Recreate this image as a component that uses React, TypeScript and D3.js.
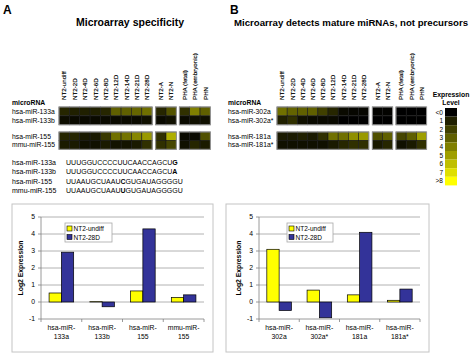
import React from "react";
import * as d3 from "d3";

// heatmap columns (same for both panels)
const columns = [
  "NT2-undiff", "NT2-2D", "NT2-4D", "NT2-6D", "NT2-8D", "NT2-12D", "NT2-14D",
  "NT2-21D", "NT2-28D", "NT2-A", "NT2-N", "PHA (fetal)", "PHA (embryonic)", "PHN",
];

// expression levels (0..8 scale)
const heatRowsA = ["hsa-miR-133a", "hsa-miR-133b", "hsa-miR-155", "mmu-miR-155"];
const heatA = [
  [1.2, 1.0, 1.0, 1.0, 1.2, 3.0, 3.0, 3.2, 3.5, 1.2, 2.6, 1.5, 4.0, 3.0],
  [0.4, 0.3, 0.3, 0.3, 0.3, 0.3, 0.3, 0.3, 0.5, 0.3, 0.5, 0.3, 0.5, 0.5],
  [1.2, 1.2, 0.8, 0.8, 1.8, 3.5, 3.6, 4.2, 4.8, 1.5, 5.5, 0.3, 0.3, 2.5],
  [0.8, 0.8, 0.5, 0.5, 0.8, 0.6, 0.6, 0.8, 1.5, 1.5, 2.2, 0.5, 1.2, 0.8],
];
const heatRowsB = ["hsa-miR-302a", "hsa-miR-302a*", "hsa-miR-181a", "hsa-miR-181a*"];
const heatB = [
  [3.5, 3.1, 3.0, 3.0, 2.0, 1.2, 0.3, 0.2, 0.2, 0.1, 0.1, 0, 0, 0],
  [1.0, 1.5, 0.5, 0.3, 0.3, 0.3, 0, 0, 0, 0, 0, 0, 0, 0],
  [0.8, 0.8, 1.0, 0.8, 1.5, 3.5, 3.5, 4.5, 4.8, 2.5, 3.0, 2.2, 3.0, 5.0],
  [0.5, 0.5, 0.5, 0.5, 0.5, 0.8, 1.2, 1.5, 1.5, 0.8, 1.2, 0.5, 0.8, 1.5],
];

const levelLabels = ["<0", "1", "2", "3", "4", "5", "6", "7", ">8"];
const levelValues = [0, 1, 2, 3, 4, 5, 6, 7, 8];

// sequences, with the index of the letter shown in bold
const seqNames = ["hsa-miR-133a", "hsa-miR-133b", "hsa-miR-155", "mmu-miR-155"];
const seqs = [
  "UUUGGUCCCCUUCAACCAGCUG",
  "UUUGGUCCCCUUCAACCAGCUA",
  "UUAAUGCUAAUCGUGAUAGGGGU",
  "UUAAUGCUAAUUGUGAUAGGGGU",
];
const seqBold = [21, 21, 11, 11];

// bar charts
const catsA = [["hsa-miR-", "133a"], ["hsa-miR-", "133b"], ["hsa-miR-", "155"], ["mmu-miR-", "155"]];
const undiffA = [0.53, 0.02, 0.65, 0.27];
const d28A = [2.93, -0.28, 4.3, 0.42];
const catsB = [["hsa-miR-", "302a"], ["hsa-miR-", "302a*"], ["hsa-miR-", "181a"], ["hsa-miR-", "181a*"]];
const undiffB = [3.1, 0.7, 0.42, 0.1];
const d28B = [-0.5, -0.93, 4.1, 0.76];
const yTicks = [-1, 0, 1, 2, 3, 4, 5];
const seriesNames = ["NT2-undiff", "NT2-28D"];

const FONT = "Liberation Sans, Arial, sans-serif";
const YELLOW = "#ffff00";
const BLUE = "#333399";

const colour = d3.scaleLinear<string>().domain([0, 8]).range(["#000000", "#ffff00"]).clamp(true);

function Heatmap({ x0, cw, gaps, rowLabels, values, labelX }: any) {
  const colX = (i: number) => x0 + i * cw + (i >= 9 ? gaps[0] : 0) + (i >= 11 ? gaps[1] : 0);
  const rowY = d3.scaleOrdinal<number, number>().domain([0, 1, 2, 3]).range([107, 116, 132, 140.5]);
  const rowH = 8.8;
  const blocks = [[0, 9], [9, 11], [11, 14]];
  return (
    <g fontFamily={FONT}>
      <text x={labelX} y={105} fontSize={6.8} fontWeight="bold">microRNA</text>
      {rowLabels.map((r: string, i: number) => (
        <text key={r} x={labelX} y={rowY(i) + 6.8} fontSize={6.8}>{r}</text>
      ))}
      {columns.map((c, i) => (
        <text key={c} transform={`translate(${colX(i) + cw / 2 + 2.3},100) rotate(-90)`} fontSize={6.2} fill="#000" stroke="#000" strokeWidth={0.15}>{c}</text>
      ))}
      {values.map((row: number[], ri: number) =>
        row.map((v, ci) => (
          <rect key={ri + "-" + ci} x={colX(ci)} y={rowY(ri)} width={cw} height={rowH}
            fill={colour(v)} stroke="#1a1a1a" strokeWidth={0.6} />
        ))
      )}
      {[0, 2].map((r) =>
        blocks.map(([a, b]) => (
          <rect key={r + "b" + a} x={colX(a)} y={rowY(r)} width={colX(b - 1) + cw - colX(a)}
            height={rowY(r + 1) + rowH - rowY(r)} fill="none" stroke="#9a9a9a" strokeWidth={1} />
        ))
      )}
    </g>
  );
}

function BarChart({ box, px0, px1, cats, s1, s2, legend }: any) {
  const y = d3.scaleLinear().domain([-1, 5]).range([319, 217]);
  const x = d3.scaleBand<number>().domain([0, 1, 2, 3]).range([px0, px1]);
  const bw = 12.3;
  const barRect = (v: number, cx: number, fill: string, k: string) => (
    <rect key={k} x={cx} y={y(Math.max(0, v))} width={bw} height={Math.abs(y(v) - y(0))}
      fill={fill} stroke="#000" strokeWidth={0.7} />
  );
  return (
    <g fontFamily={FONT}>
      <rect x={box[0]} y={box[1]} width={box[2] - box[0]} height={box[3] - box[1]} fill="#fff" stroke="#c4c4c4" strokeWidth={1} />
      {yTicks.filter((t) => t > -1).map((t) => (
        <line key={t} x1={px0} x2={px1} y1={y(t)} y2={y(t)} stroke="#a0a0a0" strokeWidth={0.8} />
      ))}
      {cats.map((_c: string[], i: number) => {
        const cx = x(i)! + x.bandwidth() / 2;
        return [barRect(s1[i], cx - bw, YELLOW, "a" + i), barRect(s2[i], cx, BLUE, "b" + i)];
      })}
      <line x1={px0} x2={px0} y1={y(5)} y2={y(-1)} stroke="#808080" strokeWidth={0.8} />
      <line x1={px0} x2={px1} y1={y(-1)} y2={y(-1)} stroke="#808080" strokeWidth={0.8} />
      {yTicks.map((t) => (
        <g key={t}>
          <line x1={px0 - 3} x2={px0} y1={y(t)} y2={y(t)} stroke="#808080" strokeWidth={0.8} />
          <text x={px0 - 6} y={y(t) + 2.4} fontSize={6.8} textAnchor="end">{t}</text>
        </g>
      ))}
      {[0, 1, 2, 3, 4].map((i) => {
        const xx = i < 4 ? x(i)! : px1;
        return <line key={i} x1={xx} x2={xx} y1={y(-1)} y2={y(-1) + 3} stroke="#808080" strokeWidth={0.8} />;
      })}
      {cats.map((c: string[], i: number) => (
        <text key={i} x={x(i)! + x.bandwidth() / 2} textAnchor="middle" fontSize={6.8}>
          <tspan x={x(i)! + x.bandwidth() / 2} y={330}>{c[0]}</tspan>
          <tspan x={x(i)! + x.bandwidth() / 2} y={339}>{c[1]}</tspan>
        </text>
      ))}
      <text transform={`translate(${px0 - 18},${y(2)}) rotate(-90)`} textAnchor="middle" fontSize={6.8} fontWeight="bold">
        Log2 Expression
      </text>
      <rect x={legend[0]} y={legend[1]} width={legend[2]} height={19} fill="#fff" stroke="#a8a8a8" strokeWidth={0.8} />
      {seriesNames.map((s, i) => (
        <g key={s}>
          <rect x={legend[0] + 2} y={legend[1] + 3 + i * 8.5} width={5} height={5} fill={i ? BLUE : YELLOW} stroke="#000" strokeWidth={0.6} />
          <text x={legend[0] + 8.5} y={legend[1] + 8 + i * 8.5} fontSize={6.5}>{s}</text>
        </g>
      ))}
    </g>
  );
}

export default function App() {
  return (
    <div style={{ position: "absolute", left: 0, top: 0 }}>
      <svg width={474} height={354} viewBox="0 0 474 354" style={{ display: "block", background: "#fff" }}>
        <g fontFamily={FONT}>
          <text x={3} y={14} fontSize={12} fontWeight="bold">A</text>
          <text x={230} y={14} fontSize={12} fontWeight="bold">B</text>
          <text x={130} y={26} fontSize={10.5} fontWeight="bold" textAnchor="middle">Microarray specificity</text>
          <text x={234} y={26} fontSize={9} fontWeight="bold" textLength={234} lengthAdjust="spacingAndGlyphs">
            Microarray detects mature miRNAs, not precursors
          </text>
        </g>

        <Heatmap x0={59} cw={10.35} gaps={[3.5, 3]} rowLabels={heatRowsA} values={heatA} labelX={12} />
        <Heatmap x0={277} cw={10.2} gaps={[3.5, 3.3]} rowLabels={heatRowsB} values={heatB} labelX={228} />

        {/* colour key */}
        <g fontFamily={FONT}>
          <text x={451} y={97} fontSize={6.8} fontWeight="bold" textAnchor="middle">Expression</text>
          <text x={451} y={105} fontSize={6.8} fontWeight="bold" textAnchor="middle">Level</text>
          {levelValues.map((v, i) => (
            <g key={v}>
              <rect x={445} y={108 + i * 8.6} width={12} height={8.6} fill={colour(v)} />
              <text x={443} y={108 + i * 8.6 + 6.5} fontSize={6.5} textAnchor="end">{levelLabels[i]}</text>
            </g>
          ))}
        </g>

        {/* sequences */}
        <g fontFamily={FONT} fontSize={7}>
          {seqNames.map((n, i) => (
            <g key={n}>
              <text x={12} y={165 + i * 9.3}>{n}</text>
              <text x={66} y={165 + i * 9.3}>
                {seqs[i].split("").map((ch, k) => (
                  <tspan key={k} fontWeight={k === seqBold[i] ? "bold" : "normal"}>{ch}</tspan>
                ))}
              </text>
            </g>
          ))}
        </g>

        <BarChart box={[12, 204, 213, 352]} px0={41} px1={204} cats={catsA} s1={undiffA} s2={d28A} legend={[65, 223, 47]} />
        <BarChart box={[226, 204, 429, 352]} px0={259} px1={420} cats={catsB} s1={undiffB} s2={d28B} legend={[287, 223, 46]} />
      </svg>
    </div>
  );
}
